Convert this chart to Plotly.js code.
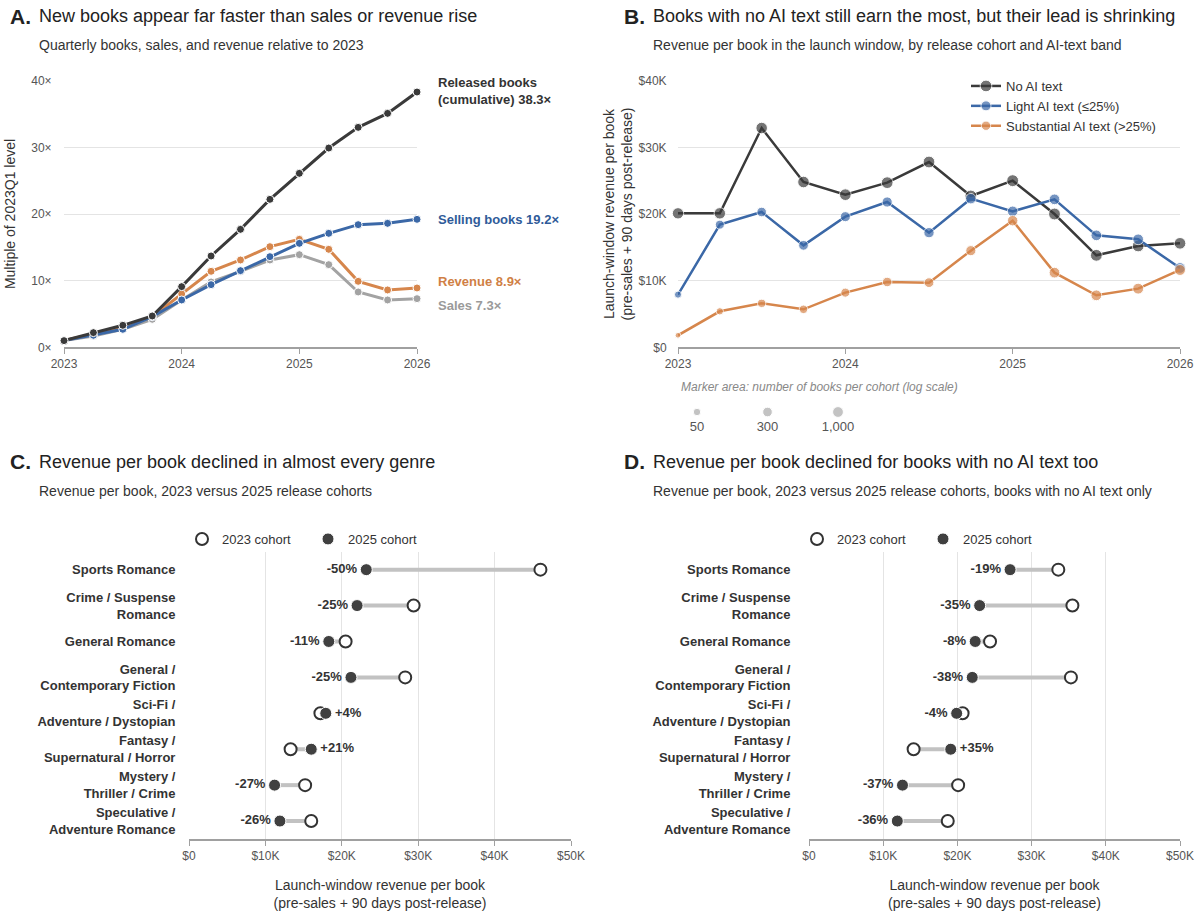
<!DOCTYPE html>
<html><head><meta charset="utf-8">
<script src="https://cdn.plot.ly/plotly-3.0.1.min.js"></script>
<style>html,body{margin:0;padding:0;background:#fff}#chart{width:1200px;height:915px}</style>
</head><body><div id="chart"></div>
<script>
// ---------- Panel A data ----------
const quarters = [2023.0, 2023.25, 2023.5, 2023.75, 2024.0, 2024.25, 2024.5, 2024.75, 2025.0, 2025.25, 2025.5, 2025.75, 2026.0];
const yearTicks = [2023, 2024, 2025, 2026];
const yearLabels = ['2023', '2024', '2025', '2026'];
const releasedBooks = [1.0, 2.2, 3.3, 4.7, 9.1, 13.7, 17.7, 22.2, 26.1, 29.9, 33.0, 35.1, 38.3];
const sellingBooks  = [1.0, 1.8, 2.7, 4.6, 7.1, 9.4, 11.5, 13.6, 15.6, 17.1, 18.4, 18.6, 19.2];
const revenueMult   = [1.0, 2.0, 3.0, 4.6, 8.0, 11.4, 13.1, 15.1, 16.2, 14.7, 9.9, 8.6, 8.9];
const salesMult     = [1.0, 1.7, 2.7, 4.2, 7.1, 9.8, 11.4, 13.1, 13.9, 12.4, 8.3, 7.1, 7.3];
const multTicks = [0, 10, 20, 30, 40];
const multLabels = ['0×', '10×', '20×', '30×', '40×'];

// ---------- Panel B data (revenue per book, $K) ----------
const noAI          = [20.1, 20.1, 32.9, 24.8, 22.9, 24.7, 27.8, 22.7, 25.0, 20.0, 13.8, 15.2, 15.6];
const lightAI       = [7.9, 18.4, 20.3, 15.3, 19.6, 21.8, 17.2, 22.3, 20.4, 22.2, 16.8, 16.2, 11.9];
const substantialAI = [1.8, 5.4, 6.6, 5.7, 8.2, 9.8, 9.7, 14.5, 19.0, 11.2, 7.8, 8.8, 11.6];
const noAICount          = [1800, 2000, 2200, 2400, 2600, 2800, 3000, 3200, 3400, 3200, 3000, 2800, 2600];
const lightAICount       = [40, 180, 300, 350, 450, 550, 600, 700, 800, 900, 900, 950, 1000];
const substantialAICount = [16, 45, 90, 110, 180, 280, 350, 500, 700, 900, 1000, 1100, 1200];
const sizeLegendCounts = [50, 300, 1000];
const sizeLegendLabels = ['50', '300', '1,000'];
const dollarTicks = [0, 10, 20, 30, 40];
const dollarLabels = ['$0', '$10K', '$20K', '$30K', '$40K'];

// ---------- Panels C & D data ----------
const genres = ['Sports Romance', 'Crime / Suspense<br>Romance', 'General Romance', 'General /<br>Contemporary Fiction',
  'Sci-Fi /<br>Adventure / Dystopian', 'Fantasy /<br>Supernatural / Horror', 'Mystery /<br>Thriller / Crime',
  'Speculative /<br>Adventure Romance'];
const genreIndex = [0, 1, 2, 3, 4, 5, 6, 7];
const c2023 = [46.0, 29.4, 20.5, 28.3, 17.2, 13.3, 15.2, 16.0];
const c2025 = [23.2, 22.0, 18.3, 21.2, 17.9, 16.0, 11.2, 11.9];
const cPct  = ['-50%', '-25%', '-11%', '-25%', '+4%', '+21%', '-27%', '-26%'];
const d2023 = [33.6, 35.5, 24.4, 35.3, 20.7, 14.1, 20.1, 18.7];
const d2025 = [27.1, 23.0, 22.4, 22.0, 19.9, 19.1, 12.6, 11.9];
const dPct  = ['-19%', '-35%', '-8%', '-38%', '-4%', '+35%', '-37%', '-36%'];
const revTicks = [0, 10, 20, 30, 40, 50];
const revLabels = ['$0', '$10K', '$20K', '$30K', '$40K', '$50K'];

// ---------- styling ----------
const FONT = 'Liberation Sans, Arial, sans-serif';
const C_BLACK = '#3a3a3a', C_BLUE = '#3b68a7', C_ORANGE = '#d6864c', C_GREY = '#a3a3a3';
const W = 1200, H = 915;
const px = v => v / W, py = v => (H - v) / H;
// marker area grows with log10(count)
const sizeFor = n => Math.sqrt(Math.max(47 * Math.log10(n) - 24, 16));

const traces = [];
function lineA(y, color, name) {
  traces.push({x: quarters, y: y, name: name, type: 'scatter', mode: 'lines+markers', xaxis: 'x', yaxis: 'y',
    line: {color: color, width: 3}, marker: {color: color, size: 8, line: {color: '#fff', width: 1}},
    cliponaxis: false, showlegend: false, hoverinfo: 'skip'});
}
lineA(salesMult, C_GREY, 'Sales');
lineA(revenueMult, C_ORANGE, 'Revenue');
lineA(sellingBooks, C_BLUE, 'Selling books');
lineA(releasedBooks, C_BLACK, 'Released books (cumulative)');

function lineB(y, counts, color, name) {
  traces.push({x: quarters, y: y, name: name, type: 'scatter', mode: 'lines+markers', xaxis: 'x2', yaxis: 'y2',
    line: {color: color, width: 2.5}, marker: {color: color, size: counts.map(sizeFor), line: {color: '#fff', width: 1}},
    cliponaxis: false, legend: 'legend', hoverinfo: 'skip'});
}
lineB(noAI, noAICount, C_BLACK, 'No AI text');
lineB(lightAI, lightAICount, C_BLUE, 'Light AI text (≤25%)');
lineB(substantialAI, substantialAICount, C_ORANGE, 'Substantial AI text (>25%)');

// size legend (markers + their labels)
traces.push({x: [0, 1, 2], y: [0.5, 0.5, 0.5], type: 'scatter', mode: 'markers', xaxis: 'x5', yaxis: 'y5',
  marker: {color: '#aaaaaa', size: sizeLegendCounts.map(sizeFor)}, cliponaxis: false, showlegend: false, hoverinfo: 'skip'});
traces.push({x: [0, 1, 2], y: [-0.5, -0.5, -0.5], type: 'scatter', mode: 'text', xaxis: 'x5', yaxis: 'y5',
  text: sizeLegendLabels, textposition: 'middle center', textfont: {size: 13, color: '#555', family: FONT},
  cliponaxis: false, showlegend: false, hoverinfo: 'skip'});

function dumbbell(v23, v25, pct, xa, ya, leg) {
  const lx = [], ly = [];
  genreIndex.forEach(i => { lx.push(v23[i], v25[i], null); ly.push(i, i, null); });
  traces.push({x: lx, y: ly, type: 'scatter', mode: 'lines', xaxis: xa, yaxis: ya,
    line: {color: '#c2c2c2', width: 4}, showlegend: false, hoverinfo: 'skip'});
  traces.push({x: v23, y: genreIndex, type: 'scatter', mode: 'markers', name: '2023 cohort', xaxis: xa, yaxis: ya,
    marker: {color: '#fff', size: 12, line: {color: '#333', width: 2}}, legend: leg, cliponaxis: false, hoverinfo: 'skip'});
  traces.push({x: v25, y: genreIndex, type: 'scatter', mode: 'markers', name: '2025 cohort', xaxis: xa, yaxis: ya,
    marker: {color: '#404040', size: 12, line: {color: '#fff', width: 1}}, legend: leg, cliponaxis: false, hoverinfo: 'skip'});
  traces.push({x: v25, y: genreIndex, type: 'scatter', mode: 'markers+text', xaxis: xa, yaxis: ya,
    marker: {size: 13, opacity: 0}, text: pct.map(t => '<b>' + t + '</b>'),
    textposition: genreIndex.map(i => v25[i] < v23[i] ? 'middle left' : 'middle right'),
    textfont: {size: 13, color: '#333', family: FONT}, showlegend: false, cliponaxis: false, hoverinfo: 'skip'});
}
dumbbell(c2023, c2025, cPct, 'x3', 'y3', 'legend2');
dumbbell(d2023, d2025, dPct, 'x4', 'y4', 'legend3');

const tickFont = {size: 12, color: '#555', family: FONT};
const catText = genres.map(g => '<b>' + g + '</b>');
const axisTitleFont = {size: 14, color: '#333', family: FONT};
const axisX = (domain, anchor) => ({domain: domain, anchor: anchor, showgrid: false, zeroline: false, showline: true,
  linecolor: '#a0a0a0', linewidth: 1.5, ticks: 'outside', ticklen: 5, tickcolor: '#a0a0a0', tickfont: tickFont, fixedrange: true});
const xTitle = 'Launch-window revenue per book<br>(pre-sales + 90 days post-release)';

const layout = {
  width: W, height: H, margin: {l: 0, r: 0, t: 0, b: 0}, paper_bgcolor: '#fff', plot_bgcolor: '#fff',
  font: {family: FONT, color: '#333'}, hovermode: false,
  xaxis: Object.assign(axisX([px(64), px(417)], 'y'), {range: [2023, 2026], tickvals: yearTicks, ticktext: yearLabels}),
  yaxis: {domain: [py(347.3), py(80.7)], anchor: 'x', range: [0, 40], tickvals: multTicks, ticktext: multLabels,
    gridcolor: '#e4e4e4', zeroline: false, showline: false, tickfont: tickFont, fixedrange: true,
    ticks: 'outside', ticklen: 9, tickcolor: 'rgba(0,0,0,0)',
    title: {text: 'Multiple of 2023Q1 level', font: axisTitleFont, standoff: 12}},
  xaxis2: Object.assign(axisX([px(678), px(1180)], 'y2'), {range: [2023, 2026], tickvals: yearTicks, ticktext: yearLabels}),
  yaxis2: {domain: [py(347.3), py(80.7)], anchor: 'x2', range: [0, 40], tickvals: dollarTicks, ticktext: dollarLabels,
    gridcolor: '#e4e4e4', zeroline: false, showline: false, tickfont: tickFont, fixedrange: true,
    ticks: 'outside', ticklen: 8, tickcolor: 'rgba(0,0,0,0)',
    title: {text: xTitle, font: axisTitleFont, standoff: 2}},
  xaxis3: Object.assign(axisX([px(189), px(571)], 'y3'), {range: [0, 50], tickvals: revTicks, ticktext: revLabels,
    showgrid: true, gridcolor: '#e4e4e4', title: {text: xTitle, font: axisTitleFont, standoff: 18}}),
  yaxis3: {domain: [py(839), py(551.7)], anchor: 'x3', range: [7.5, -0.5], tickvals: genreIndex, ticktext: catText,
    showgrid: false, zeroline: false, showline: false, ticks: 'outside', ticklen: 10, tickcolor: 'rgba(0,0,0,0)',
    tickfont: {size: 13, color: '#333', family: FONT}, fixedrange: true},
  xaxis4: Object.assign(axisX([px(809), px(1180)], 'y4'), {range: [0, 50], tickvals: revTicks, ticktext: revLabels,
    showgrid: true, gridcolor: '#e4e4e4', title: {text: xTitle, font: axisTitleFont, standoff: 18}}),
  yaxis4: {domain: [py(839), py(551.7)], anchor: 'x4', range: [7.5, -0.5], tickvals: genreIndex, ticktext: catText,
    showgrid: false, zeroline: false, showline: false, ticks: 'outside', ticklen: 15, tickcolor: 'rgba(0,0,0,0)',
    tickfont: {size: 13, color: '#333', family: FONT}, fixedrange: true},
  xaxis5: {domain: [px(697), px(838)], anchor: 'y5', range: [0, 2], visible: false, fixedrange: true},
  yaxis5: {domain: [py(436), py(404)], anchor: 'x5', range: [-1, 1], visible: false, fixedrange: true},
  legend: {x: px(966), y: py(71), xanchor: 'left', yanchor: 'top', bgcolor: 'rgba(0,0,0,0)',
    font: {size: 13, color: '#333', family: FONT}, tracegroupgap: 0},
  legend2: {orientation: 'h', x: px(182), y: py(539), xanchor: 'left', yanchor: 'middle', bgcolor: 'rgba(0,0,0,0)',
    entrywidth: 81, entrywidthmode: 'pixels', font: {size: 13, color: '#333', family: FONT}},
  legend3: {orientation: 'h', x: px(797), y: py(539), xanchor: 'left', yanchor: 'middle', bgcolor: 'rgba(0,0,0,0)',
    entrywidth: 81, entrywidthmode: 'pixels', font: {size: 13, color: '#333', family: FONT}},
  annotations: [],
  shapes: []
};

function title(letter, text, sub, x, y) {
  layout.annotations.push({xref: 'paper', yref: 'paper', x: px(x), y: py(y), xanchor: 'left', yanchor: 'middle',
    text: '<b>' + letter + '</b>', showarrow: false, font: {size: 21, color: '#222'}});
  layout.annotations.push({xref: 'paper', yref: 'paper', x: px(x + 29), y: py(y), xanchor: 'left', yanchor: 'middle',
    text: text, showarrow: false, font: {size: 18, color: '#222'}});
  layout.annotations.push({xref: 'paper', yref: 'paper', x: px(x + 29), y: py(y + 29), xanchor: 'left', yanchor: 'middle',
    text: sub, showarrow: false, font: {size: 14, color: '#333'}});
}
title('A.', 'New books appear far faster than sales or revenue rise', 'Quarterly books, sales, and revenue relative to 2023', 8, 16);
title('B.', 'Books with no AI text still earn the most, but their lead is shrinking', 'Revenue per book in the launch window, by release cohort and AI-text band', 622, 16);
title('C.', 'Revenue per book declined in almost every genre', 'Revenue per book, 2023 versus 2025 release cohorts', 8, 462);
title('D.', 'Revenue per book declined for books with no AI text too', 'Revenue per book, 2023 versus 2025 release cohorts, books with no AI text only', 622, 462);

// end labels for panel A
const last = a => a[a.length - 1];
function endLabel(text, yval, color, yshift) {
  layout.annotations.push({xref: 'x', yref: 'y', x: 2026, y: yval, xanchor: 'left', yanchor: 'middle', xshift: 19, yshift: yshift,
    align: 'left', text: '<b>' + text + '</b>', showarrow: false, font: {size: 13, color: color}});
}
endLabel('Released books<br>(cumulative) ' + last(releasedBooks).toFixed(1) + '×', last(releasedBooks), '#333', 1);
endLabel('Selling books ' + last(sellingBooks).toFixed(1) + '×', last(sellingBooks), '#2f5b99', 0);
endLabel('Revenue ' + last(revenueMult).toFixed(1) + '×', last(revenueMult), '#d07f45', 6);
endLabel('Sales ' + last(salesMult).toFixed(1) + '×', last(salesMult), '#9a9a9a', -7);
[[last(revenueMult), 1, 6], [last(salesMult), -1, -7]].forEach(([v, a, b]) => {
  layout.shapes.push({type: 'line', xref: 'x', yref: 'y', xsizemode: 'pixel', ysizemode: 'pixel', xanchor: 2026, yanchor: v,
    x0: 7, x1: 15, y0: a, y1: b, line: {color: '#cccccc', width: 1}});
});

layout.annotations.push({xref: 'paper', yref: 'paper', x: px(679), y: py(387), xanchor: 'left', yanchor: 'middle',
  text: '<i>Marker area: number of books per cohort (log scale)</i>', showarrow: false, font: {size: 12, color: '#888'}});

Plotly.newPlot('chart', traces, layout, {displayModeBar: false, responsive: false});
</script>
</body></html>
